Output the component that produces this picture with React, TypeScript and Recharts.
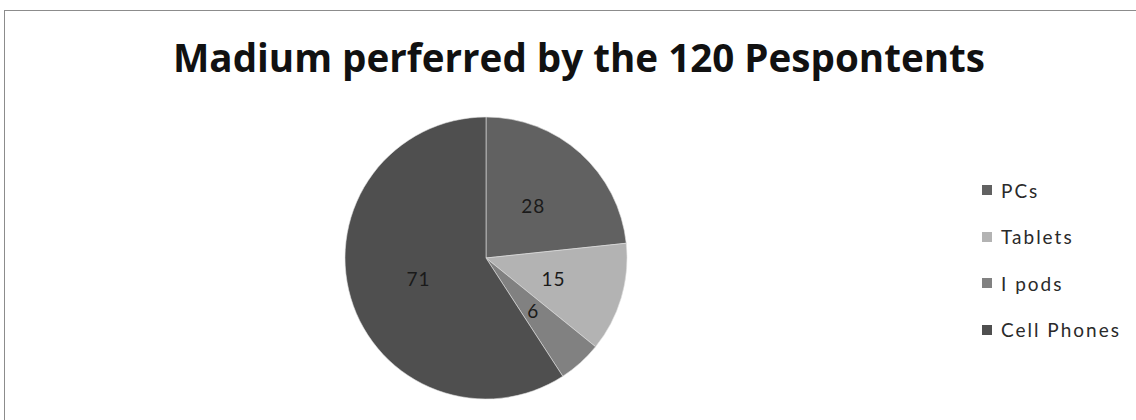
import React from 'react';
import { PieChart, Pie, Cell, Legend } from 'recharts';

const categories = ['PCs', 'Tablets', 'I pods', 'Cell Phones'];
const counts = [28, 15, 6, 71];
const colors = ['#616161', '#b3b3b3', '#818181', '#4f4f4f'];

const data = categories.map((name, i) => ({ name, value: counts[i] }));

const RAD = Math.PI / 180;

const renderLabel = (props: any) => {
  const { cx, cy, midAngle, outerRadius, value } = props;
  const r = outerRadius * 0.5;
  const x = cx + r * Math.cos(-midAngle * RAD);
  const y = cy + r * Math.sin(-midAngle * RAD);
  return (
    <text
      x={x}
      y={y}
      fill="#1a1a1a"
      fontSize={19}
      letterSpacing={1}
      fontFamily="Lato, sans-serif"
      textAnchor="middle"
      dominantBaseline="central"
    >
      {value}
    </text>
  );
};

// keep legend in data order (recharts sorts it by name otherwise)
const renderLegend = (props: any) => {
  const items = [...props.payload].sort(
    (a: any, b: any) => categories.indexOf(a.value) - categories.indexOf(b.value)
  );
  return (
    <div style={{ fontFamily: 'Lato, sans-serif', fontSize: 19, letterSpacing: 2, color: '#2a2a2a' }}>
      {items.map((entry: any) => (
        <div key={entry.value} style={{ display: 'flex', alignItems: 'center', height: 46.5 }}>
          <span style={{ width: 10, height: 10, background: entry.color, marginRight: 9, display: 'inline-block' }} />
          {entry.value}
        </div>
      ))}
    </div>
  );
};

export default function App() {
  return (
    <div style={{ position: 'absolute', left: 0, top: 0, width: 1136, height: 420, background: '#fff', overflow: 'hidden' }}>
      <div style={{ position: 'absolute', left: 4, top: 10, width: 1200, height: 500, border: '1px solid #8c8c8c' }} />
      <div
        style={{
          position: 'absolute',
          left: 0,
          top: 38,
          width: 1158,
          textAlign: 'center',
          fontFamily: '"Open Sans", sans-serif',
          fontWeight: 700,
          fontSize: 38.6,
          lineHeight: '39px',
          color: '#111',
        }}
      >
        Madium perferred by the 120 Pespontents
      </div>
      <div style={{ position: 'absolute', left: 0, top: 0 }}>
        <PieChart width={1136} height={420} margin={{ top: 0, right: 0, bottom: 0, left: 0 }}>
          <Pie
            data={data}
            dataKey="value"
            nameKey="name"
            cx={486}
            cy={258}
            outerRadius={141}
            startAngle={90}
            endAngle={-270}
            stroke="#e0e0e0"
            strokeWidth={0.6}
            label={renderLabel}
            labelLine={false}
            isAnimationActive={false}
          >
            {data.map((d, i) => (
              <Cell key={d.name} fill={colors[i]} />
            ))}
          </Pie>
          <Legend
            content={renderLegend}
            layout="vertical"
            verticalAlign="top"
            align="right"
            wrapperStyle={{ left: 982, top: 167, width: 150 }}
          />
        </PieChart>
      </div>
    </div>
  );
}
